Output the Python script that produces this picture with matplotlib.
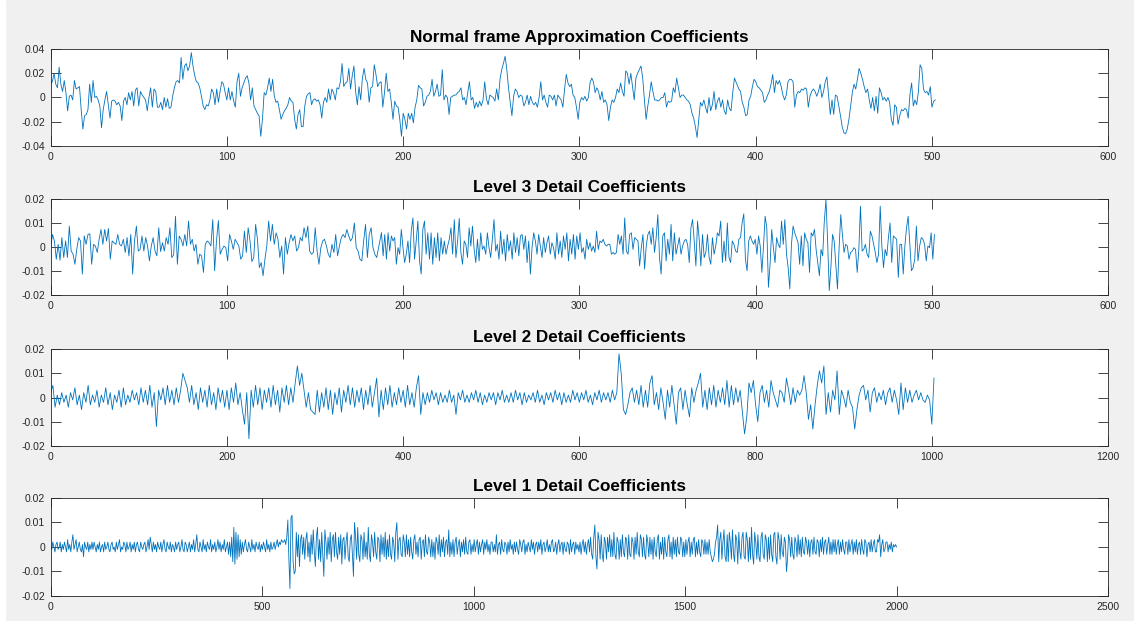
import numpy as np
import matplotlib
matplotlib.use("Agg")
import matplotlib.pyplot as plt
from matplotlib.ticker import FuncFormatter
from matplotlib.patches import Rectangle

plt.rcParams['font.family'] = ['Liberation Sans', 'DejaVu Sans']

# --- data (values in units of 1e-3) ---
titles = ["Normal frame Approximation Coefficients",
          "Level 3 Detail Coefficients",
          "Level 2 Detail Coefficients",
          "Level 1 Detail Coefficients"]

# approximation coefficients, read in three stretches (sample ranges below)
approx_a = [
    11, 13, 20, 11, 8, 25, 11, 5, 14, 4, -11, 1, 2, -2, 14, 7, 8, 9, -10, -26,
    -15, -14, -10, 11, -4, 14, 0, 1, -2, -7, -25, -10, -2, 5, -6, -17, -3, -2, -3, -6,
    -4, -7, -19, -3, 0, -6, 4, -2, 5, -7, 6, 8, -7, 5, 2, 0, -2, -11, 0, 8,
    -8, 7, 5, -8, -8, -4, -10, 0, -8, -1, -9, -8, 1, 8, 13, 14, 12, 33, 15, 26,
    28, 22, 26, 37, 26, 18, 13, 12, 8, 1, -7, -10, -6, -7, -2, 7, 4, -6, 7, -4,
    5, 13, 11, 4, -2, 8, -2, 5, -3, -8, 13, 20, 1, 8, 12, 16, 18, 12, -2, 8,
    -7, -10, -13, -15, -32, -18, 4, 2, 8, 16, 5, 15, 1, -4, -3, -10, -18, -14, -11, -9,
    -6, 0, -3, -4, -18, -26, -14, -10, -24, -24, -7, 1, 3, 4, -6, -2, -1, -3, -2, -6,
    -17, -4, 0, -4, 7, -2, 7, 4, -2, 8, 7, 13, 28, 9, 12, 13, 24, 7, 18, 26,
    5, -6, 9, -2, 16, 24, 15, 12, -4, 8, 9, 27, 19, 9, 12,
]
approx_b = [
    13, -8, 4, 20, 5, 7, -4, -18, -3, -7, -8, -18, -32, -13, -18, -26, -13, -18, -13, -21,
    -8, -2, 10, 8, 7, -7, -4, 1, 2, 5, 15, 1, 5, 11, 1, 2, 23, -2, 2, 0,
    -14, 0, 1, 2, 2, 4, 5, 8, -2, 0, -6, 4, 13, -2, 0, -9, -4, -8, -3, -7,
    -2, 13, -1, -6, 2, 1, 0, -3, 7, -2, 15, 23, 28, 34, 23, 8, -4, -15, 1, 7,
    5, 0, 2, 1, -7, -4, 2, -6, 1, -4, -6, -4, -8, 0, 13, -2, 2, -4, -8, 2,
    1, -2, 2, -7, 2, 0, -2, -8, 7, 19, 12, 9, 11, 2, 0, -8, -18, -4, 0, -2,
    1, -3, 0, 12, 16, 13, 4, 8, 5, -2, 5, -4, -2, -6, -19, -8, -2, -4, 0, 7,
    4, 12, 5, 1, 22, 20, 11, 20, 9, -2, 16, 20, 23, 26, 16, -2, -18, -7, 2, 13,
    5, -2, -2, -3, -2, 0, 0, 4, -8, -3, -4, -3, 8, 4, 16, 8, 0, 2, 2, 0,
    -2, -3, -6, -13, -17, -24, -33, -18, -4, -7, -2, -8, -13, 0, -11, -6, 5, -10, -3, 0,
    -8, -2, -11, -14, -2, -9, -11, 4, 16,
]
approx_c = [
    7, 5, -4, -8, -15, -14, -2, 1, 9, 15, 13, 9, 8, 6, 4, -4, -2, 2, 5, 11,
    19, 4, 14, 11, 14, 9, 2, -2, 2, 13, 15, 15, 13, -8, 2, 5, 4, 7, 6, 8,
    7, -8, 1, 5, 7, 5, 1, 5, 11, 0, 5, 13, 17, 1, -14, -2, -14, 2, 1, -7,
    -15, -24, -29, -30, -26, -18, -7, 4, 11, 7, 15, 24, 20, 15, 9, 4, 7, -2, -9, 0,
    -11, 1, -13, 8, 4, -2, 0, -3, 0, -4, -18, -23, -6, -8, -22, -15, -10, -11, -9, -10,
    -17, 2, 12, -7, -2, -6, 5, 27, 24, 7, 4, 5, 2, 9, -8, -3, -2,
]
approx_spans = [(0, 186.5), (187.5, 388), (390.5, 502)]

level3_a = [
    0, 5.2, 2.5, -5.1, 1.1, -5.5, 3.9, -4.4, 2.5, -4.4, 8.7, -1.7, -3, -7.2, -1, 3.9, 2.5, -11.3, 4.6, 1.1,
    5.2, 5.5, -7.2, 1.1, 0.4, -2.3, 3.2, 7.3, 1.1, 7.3, 2.5, 7.7, -5.1, 2.5, 1.8, 1.1, 5.2, 1.1, 0.4, 3.2,
    -2.3, 3.9, -3.7, 5.2, -11.3, 2.5, 8.7, -1.7, -1, 4.6, -1.7, 3.9, 0.4, -5.8, 0.4, 3.9, -1.7, -3.7, 8, -1.9,
    1.8, -1.7, 3.9, 1.1, 8, -4.4, -3.3, 12.8, -7.2, 4.6, 3.2, 0.4, 5.2, 0.4, 10.8, 1.1, 3.2, -1.7, 1.1, -7.2,
    -3, -3.7, -10.6, 1.1, 2.5, 1.8, 0.4, 11.4, -9.9, 2.5, 11, -3, -1, 0.4, -0.3, -5.8, 5.2, 2.5, -1, 3.2,
    1.8, 0.4, -5.1, -3.7, 6.6, -2.3, 8, 2.5, -6.1, -4.4, 9.4, 3.2, -8.6, -6.5, -12, -5.1, 0.4, 10.8, 2.5, 9.4,
    1.1, 5.9, 3.2, -4.4, 0.4, -11.3, 3.9, -3, 1.8, 5.2, 2.5, 4.6, -1.7, -0.3, 3.9, 2.5, 8, 3.9, 8.7, -1.7,
    -3, -2.3, 8, -1.7, -7.2, -0.3, 2.5, 3.2, 0.4, -3, -4.4, 1.1, -2.3, 5.2, -3.7, 0.4, 3.9, 5.2, 3.9, 7.3,
    4.6, 2.5, 3.9, 10, -0.3, -1.7, -5.1, -5.8, 2.5, 9.4, -4.4, 5.2, 8, -0.3, -3, -4.4,
]
level3_b = [
    6, -3.7, 5.2, -5.1, 5.9, -1.7, 4.6, 2.5, 3.9, -7.2, -0.3, -3, 7.3, -0.3, -6.5, -3, 2.5, -6.5, 6.6, 12.1,
    -5.1, 2.5, 10.8, -5.8, -11.3, 7.3, 10.8, -3, 5.9, -5.1, 5.9, -7.2, 3.9, -4.4, 5.9, -5.8, 3.9, -3, 2.5, -3,
    0.4, 3.2, 8, -3, 11.4, -4.4, 2.5, 11.9, -2.3, -7.2, 2.5, 1.1, -4.4, 8, 0.4, 8.7, -1, -6.5, 3.2, -5.8,
    5.9, -1, 0.4, -3, 5.9, -0.3, -4.4, 3.2, 11.4, -1.7, 1.1, -5.1, 6.6, -3, 3.2, -5.8, 5.2, -1.7, 2.5, -5.1,
    5.9, -2.3, 3.9, -3.7, 4.6, 5.2, -1, 4.6, -6.5, 2.5, -11.3, -0.3, 5.9, 2.5, -3, 5.2, 0.4, -4.4, 3.9, -2.3,
    1.8, 4.6, -3, 1.8, -0.3, -5.1, 5.9, -3, 2.5, -4.4, 4.6, -1, 5.9, -5.8, 3.2, -3, 5.2, -5.1, 4.6, -1,
    5.9, -2.3, -0.3, -5.1, 3.2, -1, 1.8, -1.7, 0.4, -2.3, 6.6, -1, 2.5, 1.8, 3.2, 1.1, 0.4, 1.1, 1.1, -3,
    -2.3, -3, -2.3, 5.2, 1.1, 4.6, -3, 12.1, -1.7, -3, 5.2, 5.9, -1, 3.9, 3.2, 2.5, -7.9, -0.3, 5.2, -9.2,
    0.4, 5.2, 6.6, 1.1, 8, -2.3, 3.9, 13.5, -4.4, -11.3, 4.6, 5.9, -5.8, 3.2, -3, 9.4, -5.8, 5.9, -3, 0.4,
    3.9, -3, 0.4, 2.5, 3.2, 1.1, -6.5, 8, 11.4, 2.5, -7.9, 10.8, 3.2, -7.9, 5.2, -4.4, -2.3, 5.2, -4.4, -7.2,
    3.9, -3, 0.4, 5.9, 4.6, 10.8, -6.5, 2.5, -5.8, 10, -4.4, -6.5, 2.5, 1.1, -1.7, -2.3,
]
level3_c = [
    3.2, 3.9, 10, 13.8, -5.1, -9.9, 2.5, 4.6, 2.5, 1.1, 3.2, -3, 4.6, 0.4, -10.6, 0.4, 12.8, 8, -16.8, -7.2,
    7.3, -0.3, -6.5, 3.9, 1.1, -0.3, 10.8, 1.1, 11.4, -3, -8.6, -17.5, 1.1, 8.7, 5.9, 3.9, 1.8, -7.2, 4.6, -7.9,
    5.9, 3.2, 1.8, -10.6, 5.9, 4.6, 7.3, -1, -6.5, -12, -1, -3.7, 10.8, 19.7, 2.5, -18.2, -8.6, 5.2, 2.5, -7.2,
    -17.5, -0.3, 13.5, 5.2, -2.3, 1.1, 0.4, -5.1, -2.3, -1.7, -0.3, -1, -10.6, -1, 17, -1.7, -1, 1.1, -3, -4.4,
    6.6, 4.6, 1.1, -2.3, -6.5, -3, 17, 0.4, -8.6, -1, -3.7, 3.9, 10, -6.5, 4.6, 3.9, 3.2, -12.7, 1.1, 1.1,
    -11.3, 0.4, 8, 12.8, 1.1, -9.9, -8.6, -5.1, 8.7, -5.8, 0.4, 3.9, 3.2, 1.1, -5.8, 0.4, -0.3, 5.9, -5.1, 5.2,
]
level3_spans = [(0, 185), (187.7, 389.6), (390.5, 501.5)]

level2_coef = [
    2, 5, -4, 1, -3, 2, -2, 1, -4, 2, -1, 4, -3, 1, -5, 2, -2, 5, -3, 1,
    -2, 3, -4, 1, -2, 4, -3, 2, -5, 1, -2, 3, -4, 4, -3, 1, -2, 3, -1, 2,
    -3, 4, -2, 3, -3, 5, -4, 2, -12, 3, -1, 4, -3, 5, -2, 3, -3, 4, -2, 3,
    10, 7, 4, -2, 5, -3, 2, -5, 4, -2, 3, -4, 5, -3, 2, -5, 4, -2, 3, -4,
    3, -5, 4, -2, 6, -3, 2, -5, -11, 2, -17, 3, -4, 5, -3, 4, -5, 3, -2, 4,
    -4, 5, -3, 3, -6, 4, -2, 5, -3, 4, -2, 6, 13, 5, 10, 3, -4, 2, -5, -6,
    -7, 3, -6, 2, -4, 4, -5, 3, -7, 2, -3, 4, -6, 3, -2, 5, -3, 4, -4, 3,
    -2, 4, -5, 3, -3, 5, -4, 2, 8, -8, 3, -5, 4, -3, 5, -4, 2, -3, 4, -2,
    3, -4, 5, -3, 2, -4, 4, 9, -7, 2, -3, 2, -2, 3, -1, 2, -3, 2, -2, 1,
    -2, 3, -2, 1, -7, 2, -1, 3, -2, 1, -2, 2, -1, 3, -2, 2, -3, 1, -2, 2,
    -1, 2, -3, 2, -1, 3, -2, 1, -2, 2, -2, 3, -1, 2, -3, 2, -2, 1, -1, 2,
    -2, 3, -2, 1, -3, 2, -1, 2, -2, 3, -1, 2, -3, 2, -2, 1, -2, 3, -1, 2,
    -2, 2, -1, 3, -2, 1, -3, 2, -1, 3, -2, 2, -1, 2, -2, 3, -1, 2, 18, 10,
    -5, -7, -3, 2, 4, -2, 3, -3, 5, -4, 3, -4, 6, 9, -3, 2, -5, 4, -2, -9,
    3, -4, 5, -3, -11, 2, 4, -5, 3, -3, -8, 4, -2, 3, 6, 10, -4, 3, -5, 4,
    -3, 5, -4, 3, -2, 4, -3, 7, -4, 5, -3, 4, -2, 3, -6, -15, -8, 6, 2, 7,
    -3, -10, 2, 5, -2, 3, -4, 7, 2, -1, -4, 3, 2, -2, 8, 3, -3, 4, -2, 3,
    1, 3, 9, 2, -9, -3, -13, -3, 5, 11, 6, 13, -7, 2, -6, 3, -1, 11, -7, 3,
    0, -4, 3, -2, -4, -13, -5, 1, 4, 5, -1, 3, -6, 2, 4, -2, 2, -1, 3, -3,
    2, 4, -2, 3, -1, -7, 6, -5, 4, -2, 3, -2, 1, 3, -1, 2, -1, -2, 1, -1,
    -11, 8,
]
level2_spans = [(0, 1002.5)]

level1_coef = [
    1, -1, 2, 0, -2, 1, 2, -1, 0, 2, -2, 1, -1, 2, 0, -2, 3, -1, 1, -2,
    2, 5, -1, 1, 3, -2, 0, 2, -1, -2, 1, -4, 2, 0, -1, 2, -2, 1, -1, 2,
    -1, 2, 0, -2, 1, -1, 2, -2, 0, 1, -2, 2, -1, 0, 2, -1, -2, 1, 2, -1,
    0, -2, 2, -1, 1, 3, -2, 0, -1, 2, 1, -2, 2, -1, 0, 2, -2, 1, -1, 2,
    -2, 1, 2, -1, -2, 2, 0, -1, 1, 2, -2, 0, 3, -1, 4, 1, -2, 2, -1, 1,
    -2, 2, 0, -1, 2, -2, 1, 3, -1, -2, 2, 0, -1, 2, -2, 1, 0, -2, 2, -1,
    1, 2, -2, 0, 3, -1, -2, 2, 1, -2, 0, 2, -2, 1, -1, 3, -2, 1, 5, -1,
    -2, 2, 0, -2, 3, -1, 1, -2, 2, 0, -1, 3, -2, 1, -1, 2, -2, 0, 3, -1,
    2, -2, 1, -1, 3, -2, 0, 2, -3, 2, -4, 4, -6, 8, -7, 6, -5, 5, -4, 3,
    -3, 2, -2, 1, 3, -1, -2, 2, 0, -2, 3, -1, 1, -2, 2, 0, -1, 2, -2, 1,
    -1, 2, 0, -2, 3, -1, 1, -2, 2, -1, 0, 2, -1, 1, 3, 0, 2, 1, 3, 2,
    2, 3, 1, 4, 11, -5, -17, 12, 13, -6, -11, -10, 6, -4, 5, -8, 3, 5, -3, 4,
    -5, 3, 6, -4, 2, -6, 5, -3, 7, -2, -8, 4, 8, -5, 3, -6, 6, -3, -12, 7,
    2, -5, 4, -3, 6, -6, 3, 5, -4, 6, -2, -5, 4, -3, 5, -7, 3, 4, -5, 2,
    6, -4, -6, 3, 5, -3, -12, 10, 4, -5, 8, -3, -6, 5, 3, -5, 6, -4, 2, -5,
    8, -3, -6, 5, 2, -4, 6, -2, -5, 4, 3, -6, 5, -3, 4, -4, 6, -5, 3, -4,
    5, -3, -5, 4, 2, -6, 6, 10, -5, 3, 4, -3, -4, 5, 2, -4, 5, -3, 3, -4,
    4, -2, -5, 3, 5, -3, 2, -4, 3, 4, -5, 2, 3, -4, 5, -2, -3, 4, 2, -4,
    3, -4, 2, -5, 4, 2, -3, 5, -4, 3, -2, 4, -4, 2, 3, -3, 7, -4, 2, -3,
    3, -4, 2, 4, -3, 1, 3, -4, 2, -2, 3, -3, 4, -2, -3, 2, 3, -3, 1, -2,
    3, -2, 1, 3, -3, 2, -2, 1, 3, -3, 2, -1, 3, -2, 1, -3, 2, 2, -2, 1,
    -2, 5, -3, 1, 2, -3, 3, -1, -2, 2, 1, -3, 2, -2, 3, -1, 1, -3, 2, -2,
    2, -1, -3, 3, 1, -2, 2, 3, -3, 1, -2, 2, 0, -2, 3, -1, 2, -3, 1, 2,
    -2, 2, -1, 3, -3, 1, 2, -2, 0, 3, -2, 1, -2, 2, 3, -2, -1, 2, -3, 1,
    3, -2, 1, 2, -3, 2, -1, -2, 2, 1, -3, 3, -2, 1, 2, -3, 2, -1, 1, -2,
    2, -3, 1, 3, -2, 2, -3, 1, 3, -2, 4, -3, -5, 4, 9, -4, -9, 6, 3, -5,
    5, -3, -6, 4, 2, -5, 4, -2, 5, -4, 3, -4, 6, -3, -5, 4, 2, -5, 3, -4,
    5, -2, -4, 4, 3, -5, 5, -3, -4, 4, 2, -5, 4, -3, 6, -2, -4, 5, 3, -4,
    4, -3, -5, 5, 2, -4, 4, -3, 3, -5, 4, -2, -4, 3, 5, -5, 2, -3, 4, -5,
    4, -2, -4, 3, 5, -4, 2, -5, 4, -3, 3, -4, 4, -2, -3, 4, 3, -4, 2, -4,
    3, -3, 2, 4, -4, 2, -3, 3, 4, -4, 2, -3, 3, -2, -4, 3, 2, -3, 3, -3,
    2, -3, 3, -2, -4, -6, -5, -3, 2, 4, 9, -6, 3, 6, -5, 2, 7, -4, -6, 5,
    -6, 6, 2, -5, 7, -3, -6, 5, 3, -7, 6, -2, -5, 4, 6, -4, -5, 6, 3, -6,
    4, -5, 8, -3, -7, 6, 2, -5, 5, -4, -6, 4, 6, -3, -5, 5, 3, -6, 4, -5,
    5, -3, -6, 5, 6, -4, -7, 6, 3, -5, 5, -2, -4, 4, 2, -10, -5, 5, 3, -4,
    4, -3, -5, 4, 2, -4, 5, -3, 3, -4, 4, -2, -3, 4, 2, -3, 3, -4, 2, 3,
    -3, 4, -2, -3, 3, 2, -4, 3, -2, 4, -3, 2, 3, -3, 1, 4, -3, 2, -3, 3,
    -2, 3, -3, 1, 3, -3, 2, -2, 3, -1, -3, 2, 2, -3, 3, -2, 1, 3, -3, 2,
    -2, 3, -3, 1, 2, -3, 3, -1, -3, 3, 2, -4, 1, 2, -2, 3, -2, 1, 3, -2,
    -2, 3, 2, 5, -4, 1, 3, -2, -1, 2, 2, -2, 1, -1, 2, -2, 1, 0, 1, 0,
]
level1_spans = [(0, 2000)]

series = [[approx_a, approx_b, approx_c],
          [level3_a, level3_b, level3_c],
          [level2_coef],
          [level1_coef]]
spans = [approx_spans, level3_spans, level2_spans, level1_spans]
xlims = [600, 600, 1200, 2500]
xstep = [100, 100, 200, 500]
ylims = [0.04, 0.02, 0.02, 0.02]
ystep = [0.02, 0.01, 0.01, 0.01]

# --- layout (MATLAB-like subplot(4,1,k)) ---
fig = plt.figure(figsize=(11.34, 6.21), dpi=100, facecolor='#f0f0f0')
fig.add_artist(Rectangle((0, 0), 5 / 1134, 1, transform=fig.transFigure,
                         color='white', zorder=0))

bottoms = [0.7649, 0.525, 0.2818, 0.0403]
heights = [0.1562, 0.1546, 0.1562, 0.1578]
fmt = FuncFormatter(lambda v, p: '{:g}'.format(round(v, 6)))

for k in range(4):
    ax = fig.add_axes([0.0447, bottoms[k], 0.9324, heights[k]])
    xs, ys = [], []
    for part, (s0, s1) in zip(series[k], spans[k]):
        xs.append(np.linspace(s0, s1, len(part)))
        ys.append(np.array(part, dtype=float) / 1000.0)
    ax.plot(np.concatenate(xs), np.concatenate(ys), color='#0072BD', lw=0.6)

    ax.set_xlim(0, xlims[k])
    ax.set_ylim(-ylims[k], ylims[k])
    ax.set_xticks(np.arange(0, xlims[k] + 1, xstep[k]))
    ax.set_yticks(np.arange(-ylims[k], ylims[k] + 1e-9, ystep[k]))
    ax.xaxis.set_major_formatter(fmt)
    ax.yaxis.set_major_formatter(fmt)
    ax.tick_params(direction='in', length=7, width=0.6, colors='#262626',
                   labelsize=7.5, top=True, right=True, pad=4)
    for s in ax.spines.values():
        s.set_color('#262626')
        s.set_linewidth(0.6)
    ax.set_title(titles[k], fontsize=12.3, fontweight='bold', pad=5, color='black')

fig.savefig('out.png', dpi=100, facecolor=fig.get_facecolor())
